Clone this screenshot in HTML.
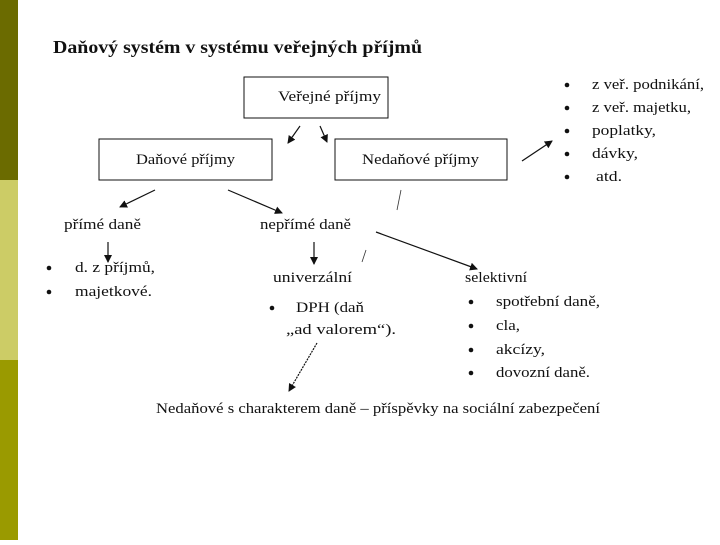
<!DOCTYPE html>
<html><head><meta charset="utf-8"><style>
body{margin:0;width:720px;height:540px;background:#fff;overflow:hidden}
text{font-family:"Liberation Serif",serif;font-size:15px;fill:#111}
</style></head><body>
<svg width="720" height="540" xmlns="http://www.w3.org/2000/svg">
<defs><marker id="a" markerWidth="8" markerHeight="8" refX="7" refY="4" orient="auto" markerUnits="userSpaceOnUse"><path d="M0,0 L8,4 L0,8z" fill="#111"/></marker></defs>
<rect x="0" y="0" width="18" height="180" fill="#6b6b00"/>
<rect x="0" y="180" width="18" height="180" fill="#cccc66"/>
<rect x="0" y="360" width="18" height="180" fill="#9a9a00"/>
<text x="53" y="53" textLength="369" lengthAdjust="spacingAndGlyphs" style="font-size:18px;font-weight:bold">Daňový systém v systému veřejných příjmů</text>
<rect x="244" y="77" width="144" height="41" fill="#fff" stroke="#111"/>
<text x="278" y="101" textLength="103" lengthAdjust="spacingAndGlyphs">Veřejné příjmy</text>
<rect x="99" y="139" width="173" height="41" fill="#fff" stroke="#111"/>
<text x="136" y="164" textLength="99" lengthAdjust="spacingAndGlyphs">Daňové příjmy</text>
<rect x="335" y="139" width="172" height="41" fill="#fff" stroke="#111"/>
<text x="362" y="164" textLength="117" lengthAdjust="spacingAndGlyphs">Nedaňové příjmy</text>
<g stroke="#111" stroke-width="1.2" marker-end="url(#a)">
<line x1="300" y1="126" x2="288" y2="143"/>
<line x1="320" y1="126" x2="327" y2="142"/>
<line x1="522" y1="161" x2="552" y2="141"/>
<line x1="155" y1="190" x2="120" y2="207"/>
<line x1="228" y1="190" x2="282" y2="213"/>
<line x1="108" y1="242" x2="108" y2="262"/>
<line x1="314" y1="242" x2="314" y2="264"/>
<line x1="376" y1="232" x2="477" y2="269"/>
<line x1="317" y1="343" x2="289" y2="391" stroke-dasharray="2,1"/>
</g>
<g stroke="#333" stroke-width="0.8"><line x1="401" y1="190" x2="397" y2="210"/><line x1="366" y1="250" x2="362" y2="262"/></g>
<text x="592" y="89" textLength="112" lengthAdjust="spacingAndGlyphs">z veř. podnikání,</text>
<text x="592" y="112" textLength="99" lengthAdjust="spacingAndGlyphs">z veř. majetku,</text>
<text x="592" y="135" textLength="64" lengthAdjust="spacingAndGlyphs">poplatky,</text>
<text x="592" y="158" textLength="46" lengthAdjust="spacingAndGlyphs">dávky,</text>
<text x="596" y="181" textLength="26" lengthAdjust="spacingAndGlyphs">atd.</text>
<g fill="#111"><circle cx="567" cy="85" r="2.3"/><circle cx="567" cy="108" r="2.3"/><circle cx="567" cy="131" r="2.3"/><circle cx="567" cy="154" r="2.3"/><circle cx="567" cy="177" r="2.3"/>
<circle cx="49" cy="268" r="2.3"/><circle cx="49" cy="292" r="2.3"/><circle cx="272" cy="308" r="2.3"/>
<circle cx="471" cy="302" r="2.3"/><circle cx="471" cy="326" r="2.3"/><circle cx="471" cy="350" r="2.3"/><circle cx="471" cy="373" r="2.3"/></g>
<text x="64" y="229" textLength="77" lengthAdjust="spacingAndGlyphs">přímé daně</text>
<text x="260" y="229" textLength="91" lengthAdjust="spacingAndGlyphs">nepřímé daně</text>
<text x="75" y="272" textLength="80" lengthAdjust="spacingAndGlyphs">d. z příjmů,</text>
<text x="75" y="296" textLength="77" lengthAdjust="spacingAndGlyphs">majetkové.</text>
<text x="273" y="282" textLength="79" lengthAdjust="spacingAndGlyphs">univerzální</text>
<text x="465" y="282" textLength="62" lengthAdjust="spacingAndGlyphs">selektivní</text>
<text x="296" y="312" textLength="68" lengthAdjust="spacingAndGlyphs">DPH (daň</text>
<text x="286" y="334" textLength="110" lengthAdjust="spacingAndGlyphs">„ad valorem“).</text>
<text x="496" y="306" textLength="104" lengthAdjust="spacingAndGlyphs">spotřební daně,</text>
<text x="496" y="330" textLength="24" lengthAdjust="spacingAndGlyphs">cla,</text>
<text x="496" y="354" textLength="49" lengthAdjust="spacingAndGlyphs">akcízy,</text>
<text x="496" y="377" textLength="94" lengthAdjust="spacingAndGlyphs">dovozní daně.</text>
<text x="156" y="413" textLength="444" lengthAdjust="spacingAndGlyphs">Nedaňové s charakterem daně – příspěvky na sociální zabezpečení</text>
</svg>
</body></html>
